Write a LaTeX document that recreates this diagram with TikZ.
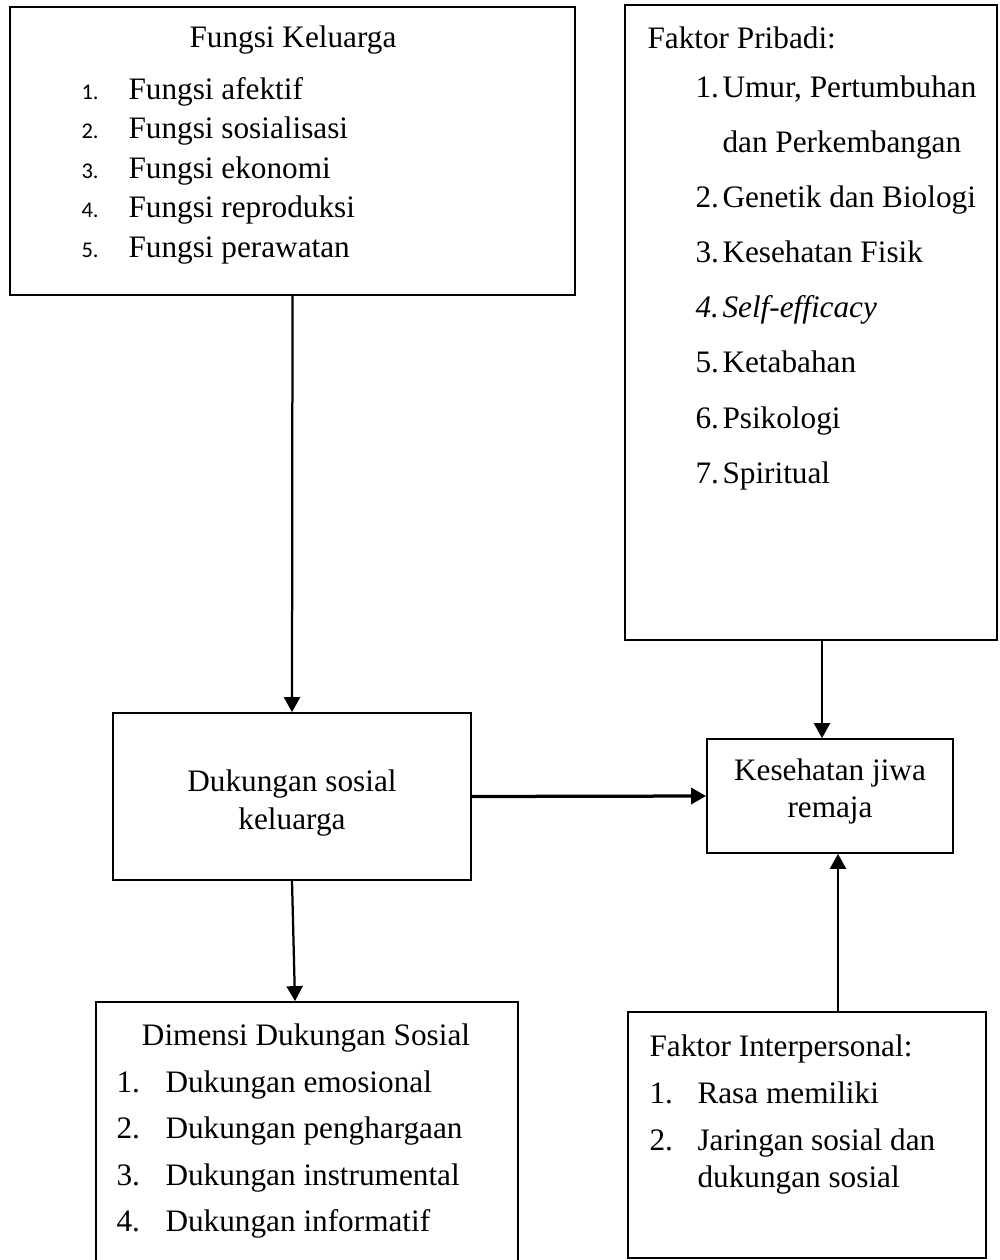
\documentclass[tikz,border=0pt]{standalone}
\usepackage{fontspec}
\setmainfont{Liberation Serif}
\newfontfamily\numfont{Carlito}
\usetikzlibrary{arrows.meta, fit}

\begin{document}
\begin{tikzpicture}[
    x=0.4pt, y=-0.4pt,
    font=\fontsize{12.5}{15}\selectfont,
    % Gaya kotak
    kotak/.style={draw, line width=0.7pt, inner sep=0pt},
    % Gaya teks di dalam kotak
    teks/.style={anchor=base west, inner sep=0pt},
    tengah/.style={anchor=base, inner sep=0pt},
    nomor/.style={anchor=base west, inner sep=0pt, font=\numfont\fontsize{9}{11}\selectfont},
    % Gaya panah
    panah/.style={line width=0.9pt, -{Triangle[length=6pt, width=6.4pt]}}
]
    \useasboundingbox (0,0) rectangle (1000,1260);

    % ==========================================
    % KOTAK-KOTAK
    % ==========================================
    \node[kotak, fit={(10,7) (575,295)}] (keluarga) {};
    \node[kotak, fit={(625,5) (997,640)}] (pribadi) {};
    \node[kotak, fit={(113,713) (471,880)}] (dukungan) {};
    \node[kotak, fit={(707,739) (953,853)}] (kesehatan) {};
    \node[kotak, fit={(96,1002) (518,1275)}] (dimensi) {};   % bawahnya terpotong
    \node[kotak, fit={(628,1012) (986,1258)}] (interpersonal) {};

    % Fungsi Keluarga
    \node[tengah] (kel-judul) at (293,47) {Fungsi Keluarga};
    \foreach \t [count=\n] in {Fungsi afektif, Fungsi sosialisasi, Fungsi ekonomi, Fungsi reproduksi, Fungsi perawatan} {
        \node[nomor] (kel-no-\n) at (81,{99+39.5*(\n-1)}) {\n.};
        \node[teks] (kel-\n) at (128,{99+39.5*(\n-1)}) {\t};
    }

    % Faktor Pribadi
    \node[teks] (pri-judul) at (647,48) {Faktor Pribadi:};
    \node[teks] (pri-no-1) at (695,97) {1.};
    \node[teks] (pri-1) at (722,97) {Umur, Pertumbuhan};
    \node[teks] (pri-1b) at (722,152) {dan Perkembangan};
    \node[teks] (pri-no-2) at (695,207) {2.};
    \node[teks] (pri-2) at (722,207) {Genetik dan Biologi};
    \node[teks] (pri-no-3) at (695,262) {3.};
    \node[teks] (pri-3) at (722,262) {Kesehatan Fisik};
    \node[teks] (pri-no-4) at (695,317) {\itshape 4.};
    \node[teks] (pri-4) at (722,317) {\itshape Self-efficacy};
    \node[teks] (pri-no-5) at (695,372) {5.};
    \node[teks] (pri-5) at (722,372) {Ketabahan};
    \node[teks] (pri-no-6) at (695,428) {6.};
    \node[teks] (pri-6) at (722,428) {Psikologi};
    \node[teks] (pri-no-7) at (695,483) {7.};
    \node[teks] (pri-7) at (722,483) {Spiritual};

    % Dukungan sosial keluarga
    \node[tengah] (duk-1) at (292,791) {Dukungan sosial};
    \node[tengah] (duk-2) at (292,829) {keluarga};

    % Kesehatan jiwa remaja
    \node[tengah] (kes-1) at (830,780) {Kesehatan jiwa};
    \node[tengah] (kes-2) at (830,817) {remaja};

    % Dimensi Dukungan Sosial
    \node[tengah] (dim-judul) at (306,1045) {Dimensi Dukungan Sosial};
    \foreach \t [count=\n] in {Dukungan emosional, Dukungan penghargaan, Dukungan instrumental, Dukungan informatif} {
        \node[teks] (dim-no-\n) at (116,{1092+46.5*(\n-1)}) {\n.};
        \node[teks] (dim-\n) at (165,{1092+46.5*(\n-1)}) {\t};
    }

    % Faktor Interpersonal
    \node[teks] (int-judul) at (649,1056) {Faktor Interpersonal:};
    \node[teks] (int-no-1) at (649,1103) {1.};
    \node[teks] (int-1) at (697,1103) {Rasa memiliki};
    \node[teks] (int-no-2) at (649,1150) {2.};
    \node[teks] (int-2) at (697,1150) {Jaringan sosial dan};
    \node[teks] (int-2b) at (697,1187) {dukungan sosial};

    % ==========================================
    % PANAH
    % ==========================================
    \draw[panah] (keluarga.south) -- (dukungan.north);
    \draw[panah] ([xshift=-3.2pt]kesehatan.north |- pribadi.south) -- ([xshift=-3.2pt]kesehatan.north);
    \draw[panah, line width=1.3pt] (dukungan.east) -- (kesehatan.west);
    \draw[panah] (dukungan.south) -- ([xshift=1.2pt]dukungan.south |- dimensi.north);
    \draw[panah] ([xshift=3.2pt]kesehatan.south |- interpersonal.north) -- ([xshift=3.2pt]kesehatan.south);

\end{tikzpicture}
\end{document}
